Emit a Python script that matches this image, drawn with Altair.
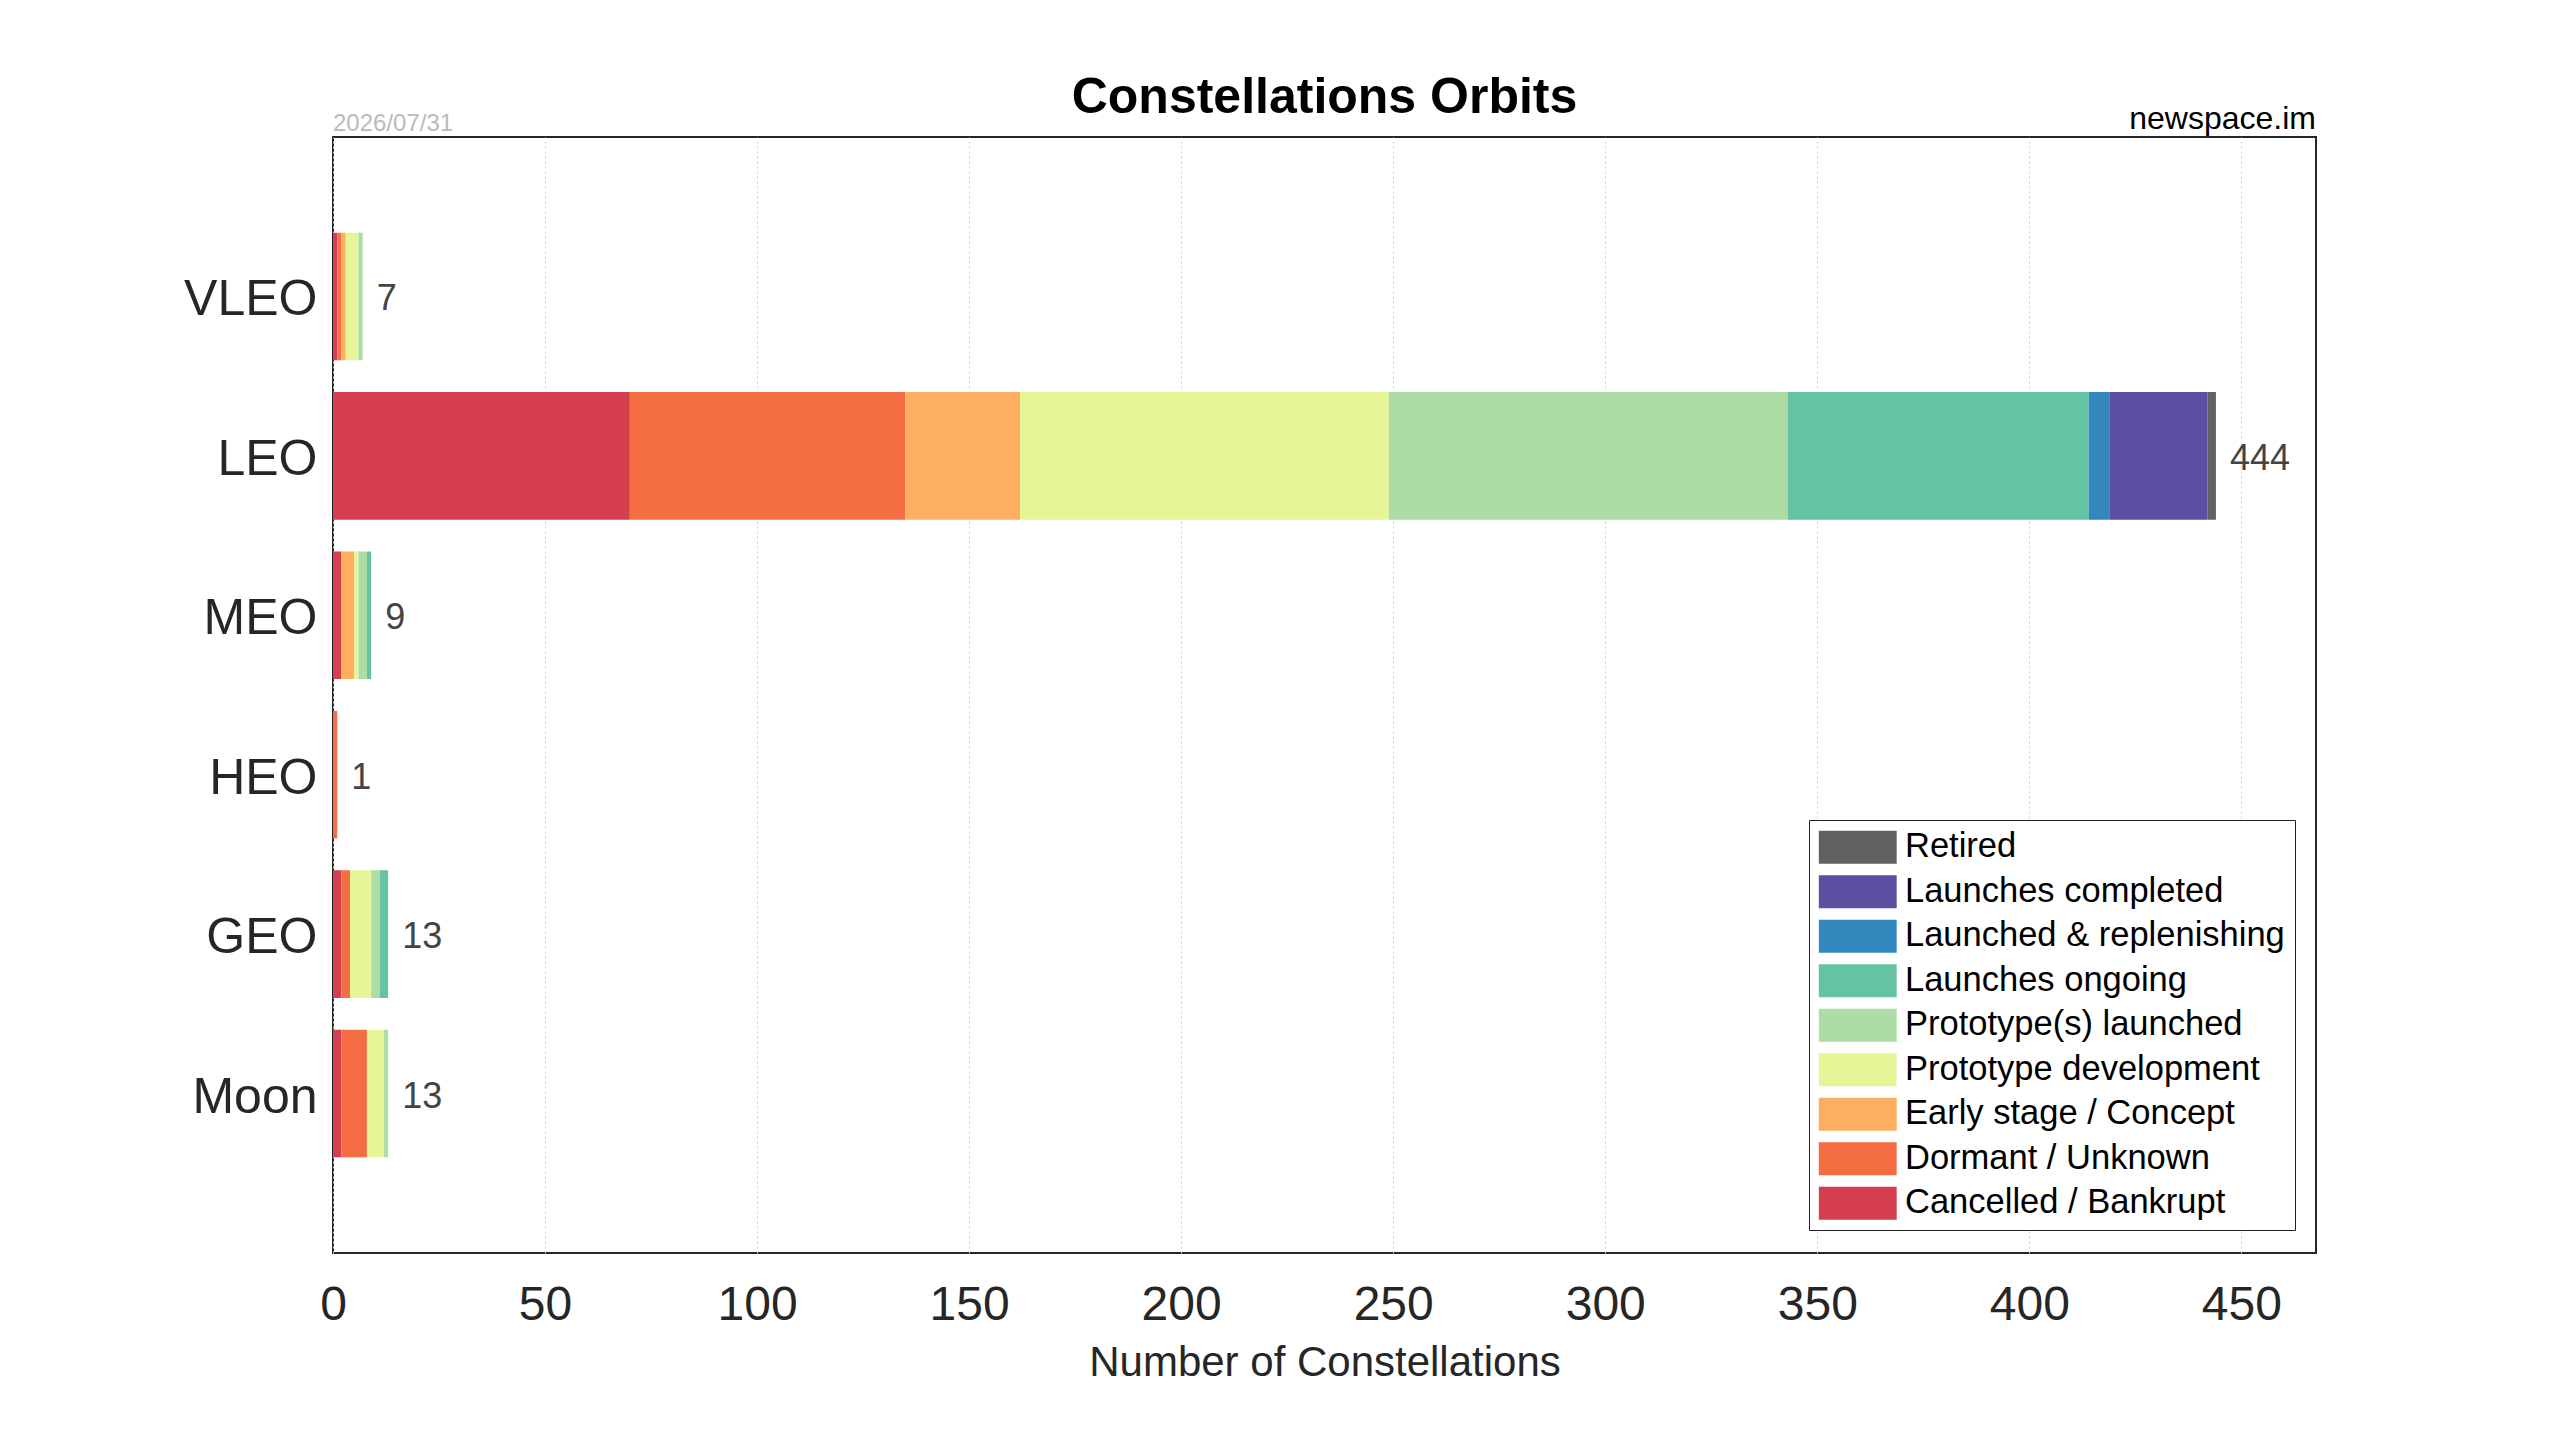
import altair as alt
import pandas as pd

# ---- data ----
orbits = ["VLEO", "LEO", "MEO", "HEO", "GEO", "Moon"]
statuses = [
    "Cancelled / Bankrupt",
    "Dormant / Unknown",
    "Early stage / Concept",
    "Prototype development",
    "Prototype(s) launched",
    "Launches ongoing",
    "Launched & replenishing",
    "Launches completed",
    "Retired",
]
status_colors = ["#d53e4f", "#f46d43", "#fdae61", "#e6f598", "#abdda4",
                 "#66c2a5", "#3288bd", "#5e4fa2", "#616161"]

vleo_counts = [1, 1, 1, 3, 1, 0, 0, 0, 0]
leo_counts = [70, 65, 27, 87, 94, 71, 5, 23, 2]
meo_counts = [2, 0, 3, 1, 2, 1, 0, 0, 0]
heo_counts = [0, 1, 0, 0, 0, 0, 0, 0, 0]
geo_counts = [2, 2, 0, 5, 2, 2, 0, 0, 0]
moon_counts = [2, 6, 0, 4, 1, 0, 0, 0, 0]

x_ticks = [0, 50, 100, 150, 200, 250, 300, 350, 400, 450]
chart_title = ["Constellations Orbits"]
date_label = ["2026/07/31"]
source_label = ["newspace.im"]
x_title = "Number of Constellations"

# ---- tables ----
series = dict(zip(orbits, [vleo_counts, leo_counts, meo_counts,
                           heo_counts, geo_counts, moon_counts]))
rows = []
for orb, vals in series.items():
    for i, (st, v) in enumerate(zip(statuses, vals)):
        if v > 0:
            rows.append({"orbit": orb, "status": st, "idx": i, "count": v})
df = pd.DataFrame(rows)
tot = pd.DataFrame({"orbit": orbits,
                    "count": [sum(series[o]) for o in orbits]})

legend_domain = statuses[::-1]
legend_range = status_colors[::-1]

W, H = 1983, 1116
FONT = "Liberation Sans"

x_scale = alt.Scale(domain=[0, 467.6], nice=False, zero=True)
y_scale = alt.Scale(paddingInner=0.2, paddingOuter=0.6)

bars = alt.Chart(df).mark_bar(strokeWidth=0).encode(
    x=alt.X("count:Q", stack="zero", scale=x_scale,
            axis=alt.Axis(values=x_ticks, title=x_title, ticks=False, domain=False,
                          grid=True, gridDash=[2, 3], gridColor="#cfcfcf", gridWidth=1,
                          labelFontSize=48, labelFont=FONT, labelColor="#262626",
                          labelPadding=28, titleFontSize=42, titleFont=FONT,
                          titleFontWeight="normal", titleColor="#262626",
                          titlePadding=13, labelFlush=False)),
    y=alt.Y("orbit:N", sort=orbits, scale=y_scale,
            axis=alt.Axis(title=None, ticks=False, domain=False, grid=False,
                          labelFontSize=50, labelFont=FONT, labelColor="#262626",
                          labelPadding=16, labelOffset=4)),
    color=alt.Color("status:N",
                    scale=alt.Scale(domain=legend_domain, range=legend_range),
                    legend=alt.Legend(title=None, orient="none", legendX=1476, legendY=683,
                                      fillColor="white", strokeColor="#222222",
                                      padding=10, cornerRadius=0,
                                      labelFontSize=34.5, labelFont=FONT, labelColor="black",
                                      labelLimit=1000,
                                      symbolType="M-2.36,-1H2.36V1H-2.36Z",
                                      symbolSize=1089, symbolStrokeWidth=0,
                                      symbolOpacity=1, symbolOffset=21.5,
                                      labelOffset=30, rowPadding=9.5)),
    order=alt.Order("idx:Q", sort="ascending"),
)

totals = alt.Chart(tot).mark_text(align="left", baseline="middle", dx=14, dy=3,
                                  fontSize=36, font=FONT, color="#444444").encode(
    x=alt.X("count:Q", scale=x_scale),
    y=alt.Y("orbit:N", sort=orbits, scale=y_scale),
    text="count:Q",
)

title_txt = alt.Chart(pd.DataFrame({"t": chart_title})).mark_text(
    align="center", baseline="alphabetic", fontSize=50, fontWeight="bold",
    font=FONT, color="black").encode(
    x=alt.value(W / 2), y=alt.value(-24), text="t:N")

date_txt = alt.Chart(pd.DataFrame({"t": date_label})).mark_text(
    align="left", baseline="alphabetic", fontSize=24, font=FONT,
    color="#bbbbbb").encode(x=alt.value(0), y=alt.value(-6), text="t:N")

src_txt = alt.Chart(pd.DataFrame({"t": source_label})).mark_text(
    align="right", baseline="alphabetic", fontSize=32, font=FONT,
    color="black").encode(x=alt.value(W), y=alt.value(-8), text="t:N")

chart = alt.layer(bars, totals, title_txt, date_txt, src_txt).properties(
    width=W, height=H,
    background="white",
    autosize=alt.AutoSizeParams(type="none"),
    padding={"left": 325, "top": 129, "right": 200, "bottom": 150},
).configure_view(stroke="#262626", strokeWidth=2)

chart.save("out.html", embed_options={"renderer": "svg", "actions": False})
